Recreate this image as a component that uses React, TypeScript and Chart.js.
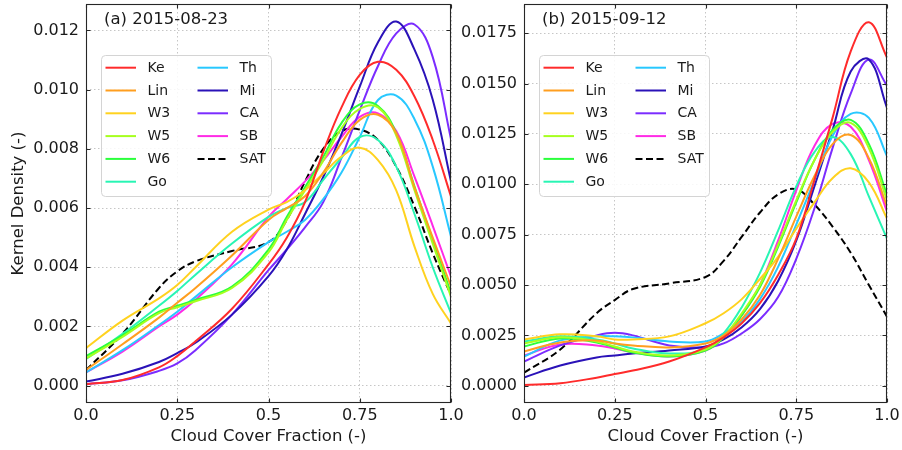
import React, { useEffect, useRef } from 'react';
import { Chart, registerables } from 'chart.js';

Chart.register(...registerables);

// ---------- data ----------
const X = [0, 0.1, 0.2, 0.25, 0.3, 0.4, 0.5, 0.55, 0.6, 0.65, 0.7, 0.75, 0.8, 0.85, 0.9, 0.95, 1.0];
const NAMES = ['Ke', 'Lin', 'W3', 'W5', 'W6', 'Go', 'Th', 'Mi', 'CA', 'SB', 'SAT'];
const COLORS = ['#ff2b2b', '#ff9e1f', '#ffd21f', '#a6ff1f', '#2bff3c', '#28f5b4', '#28c8ff', '#2a12b8', '#7b2cff', '#ff2be6', '#000000'];

const X_TICKS = [0, 0.25, 0.5, 0.75, 1.0];
const X_TICK_LABELS = ['0.0', '0.25', '0.5', '0.75', '1.0'];
const A_Y_TICKS = [0, 0.002, 0.004, 0.006, 0.008, 0.010, 0.012];
const A_Y_TICK_LABELS = ['0.000', '0.002', '0.004', '0.006', '0.008', '0.010', '0.012'];
const B_Y_TICKS = [0, 0.0025, 0.005, 0.0075, 0.01, 0.0125, 0.015, 0.0175];
const B_Y_TICK_LABELS = ['0.0000', '0.0025', '0.0050', '0.0075', '0.0100', '0.0125', '0.0150', '0.0175'];

const A_TITLE = '(a) 2015-08-23';
const B_TITLE = '(b) 2015-09-12';

// Panel (a) 2015-08-23
const A_KE = [0.00005, 0.00019, 0.00062, 0.00100, 0.00150, 0.00260, 0.00410, 0.00500, 0.00620, 0.00790, 0.00940, 0.01050, 0.01094, 0.01067, 0.00977, 0.00830, 0.00639];
const A_LIN = [0.00053, 0.00140, 0.00230, 0.00280, 0.00330, 0.00440, 0.00560, 0.00600, 0.00640, 0.00720, 0.00820, 0.00898, 0.00915, 0.00853, 0.00670, 0.00500, 0.00335];
const A_W3 = [0.00127, 0.00220, 0.00295, 0.00340, 0.00400, 0.00520, 0.00595, 0.00620, 0.00660, 0.00717, 0.00774, 0.00804, 0.00762, 0.00660, 0.00470, 0.00310, 0.00210];
const A_W5 = [0.00092, 0.00165, 0.00245, 0.00265, 0.00285, 0.00330, 0.00450, 0.00560, 0.00660, 0.00760, 0.00870, 0.00935, 0.00940, 0.00845, 0.00660, 0.00480, 0.00300];
const A_W6 = [0.00100, 0.00170, 0.00250, 0.00270, 0.00290, 0.00335, 0.00460, 0.00570, 0.00670, 0.00773, 0.00887, 0.00950, 0.00945, 0.00853, 0.00673, 0.00492, 0.00312];
const A_GO = [0.00090, 0.00175, 0.00270, 0.00320, 0.00375, 0.00480, 0.00570, 0.00600, 0.00620, 0.00695, 0.00770, 0.00840, 0.00830, 0.00740, 0.00580, 0.00400, 0.00245];
const A_TH = [0.00045, 0.00120, 0.00205, 0.00250, 0.00300, 0.00400, 0.00485, 0.00520, 0.00560, 0.00630, 0.00720, 0.00840, 0.00965, 0.00980, 0.00900, 0.00740, 0.00504];
const A_MI = [0.00014, 0.00040, 0.00080, 0.00110, 0.00145, 0.00240, 0.00370, 0.00460, 0.00580, 0.00705, 0.00850, 0.01010, 0.01160, 0.01230, 0.01135, 0.00966, 0.00690];
const A_CA = [0.00005, 0.00018, 0.00050, 0.00075, 0.00120, 0.00240, 0.00390, 0.00460, 0.00535, 0.00620, 0.00770, 0.00930, 0.01080, 0.01190, 0.01220, 0.01110, 0.00833];
const A_SB = [0.00045, 0.00115, 0.00200, 0.00240, 0.00290, 0.00410, 0.00570, 0.00630, 0.00690, 0.00760, 0.00840, 0.00908, 0.00920, 0.00860, 0.00706, 0.00540, 0.00368];
const A_SAT = [0.00053, 0.00175, 0.00330, 0.00386, 0.00420, 0.00455, 0.00485, 0.00560, 0.00690, 0.00800, 0.00860, 0.00865, 0.00830, 0.00740, 0.00605, 0.00447, 0.00306];

// Panel (b) 2015-09-12
const B_KE = [0.00003, 0.00012, 0.00040, 0.00058, 0.00075, 0.00120, 0.00190, 0.00240, 0.00310, 0.00410, 0.00550, 0.00730, 0.01020, 0.01330, 0.01660, 0.01805, 0.01630];
const B_LIN = [0.00170, 0.00215, 0.00225, 0.00210, 0.00200, 0.00190, 0.00210, 0.00250, 0.00330, 0.00450, 0.00630, 0.00840, 0.01040, 0.01200, 0.01245, 0.01130, 0.00890];
const B_W3 = [0.00230, 0.00255, 0.00245, 0.00230, 0.00230, 0.00245, 0.00310, 0.00360, 0.00430, 0.00530, 0.00640, 0.00780, 0.00910, 0.01030, 0.01080, 0.01010, 0.00830];
const B_W5 = [0.00210, 0.00240, 0.00220, 0.00195, 0.00170, 0.00150, 0.00180, 0.00245, 0.00360, 0.00500, 0.00700, 0.00920, 0.01120, 0.01260, 0.01305, 0.01180, 0.00920];
const B_W6 = [0.00195, 0.00235, 0.00215, 0.00190, 0.00165, 0.00145, 0.00175, 0.00240, 0.00350, 0.00490, 0.00690, 0.00910, 0.01120, 0.01270, 0.01320, 0.01200, 0.00947];
const B_GO = [0.00220, 0.00245, 0.00230, 0.00210, 0.00185, 0.00160, 0.00180, 0.00260, 0.00390, 0.00560, 0.00770, 0.00990, 0.01160, 0.01235, 0.01150, 0.00940, 0.00730];
const B_TH = [0.00145, 0.00225, 0.00245, 0.00245, 0.00240, 0.00220, 0.00220, 0.00260, 0.00320, 0.00430, 0.00590, 0.00800, 0.01020, 0.01240, 0.01350, 0.01330, 0.01140];
const B_MI = [0.00041, 0.00100, 0.00140, 0.00150, 0.00160, 0.00175, 0.00195, 0.00230, 0.00290, 0.00380, 0.00520, 0.00720, 0.00990, 0.01270, 0.01560, 0.01620, 0.01380];
const B_CA = [0.00120, 0.00200, 0.00250, 0.00263, 0.00250, 0.00200, 0.00190, 0.00210, 0.00260, 0.00330, 0.00440, 0.00630, 0.00880, 0.01180, 0.01450, 0.01620, 0.01490];
const B_SB = [0.00150, 0.00205, 0.00200, 0.00185, 0.00165, 0.00145, 0.00175, 0.00240, 0.00350, 0.00500, 0.00720, 0.00970, 0.01190, 0.01300, 0.01286, 0.01120, 0.00864];
const B_SAT = [0.00065, 0.00180, 0.00360, 0.00425, 0.00480, 0.00508, 0.00540, 0.00620, 0.00740, 0.00860, 0.00950, 0.00975, 0.00900, 0.00790, 0.00660, 0.00500, 0.00343];

const A_SERIES = [A_KE, A_LIN, A_W3, A_W5, A_W6, A_GO, A_TH, A_MI, A_CA, A_SB, A_SAT];
const B_SERIES = [B_KE, B_LIN, B_W3, B_W5, B_W6, B_GO, B_TH, B_MI, B_CA, B_SB, B_SAT];

// ---------- styling ----------
const FONT = '"DejaVu Sans", "Liberation Sans", sans-serif';
const TEXT = '#1a1a1a';

const framePlugin = {
  id: 'frameTicks',
  afterDraw(chart: any) {
    const { ctx, chartArea, scales } = chart;
    const l = Math.round(chartArea.left) + 0.5;
    const r = Math.round(chartArea.right) - 0.5;
    const t = Math.round(chartArea.top) + 0.5;
    const b = Math.round(chartArea.bottom) - 0.5;
    ctx.save();
    ctx.strokeStyle = '#262626';
    ctx.lineWidth = 1.1;
    ctx.setLineDash([]);
    ctx.strokeRect(l, t, r - l, b - t);
    const len = 4;
    ctx.beginPath();
    scales.x.ticks.forEach((tk: any) => {
      const px = Math.round(scales.x.getPixelForValue(tk.value)) + 0.5;
      ctx.moveTo(px, b); ctx.lineTo(px, b - len);
      ctx.moveTo(px, t); ctx.lineTo(px, t + len);
    });
    scales.y.ticks.forEach((tk: any) => {
      const py = Math.round(scales.y.getPixelForValue(tk.value)) + 0.5;
      ctx.moveTo(l, py); ctx.lineTo(l + len, py);
      ctx.moveTo(r, py); ctx.lineTo(r - len, py);
    });
    ctx.stroke();
    ctx.restore();
  },
};

const titlePlugin = {
  id: 'panelTitle',
  afterDraw(chart: any, _args: any, opts: any) {
    const { ctx, chartArea } = chart;
    ctx.save();
    ctx.font = `16.5px ${FONT}`;
    ctx.fillStyle = TEXT;
    ctx.textBaseline = 'alphabetic';
    ctx.textAlign = 'left';
    ctx.fillText(opts.text, chartArea.left + 18, 24);
    ctx.restore();
  },
};

const legendPlugin = {
  id: 'panelLegend',
  afterDatasetsDraw(chart: any) {
    const { ctx, chartArea } = chart;
    const bx = Math.round(chartArea.left + 14.5) + 0.5;
    const by = 55.5;
    const bw = 170;
    const bh = 141;
    ctx.save();
    ctx.beginPath();
    if (ctx.roundRect) ctx.roundRect(bx, by, bw, bh, 4); else ctx.rect(bx, by, bw, bh);
    ctx.fillStyle = 'rgba(255,255,255,0.85)';
    ctx.fill();
    ctx.strokeStyle = '#d4d4d4';
    ctx.lineWidth = 1;
    ctx.stroke();
    chart.data.datasets.forEach((ds: any, i: number) => {
      const col = Math.floor(i / 6);
      const row = i % 6;
      const lx = bx + (col ? 96 : 4);
      const ty = by + 12.2 + row * 22.8;
      ctx.beginPath();
      ctx.setLineDash(ds.borderDash || []);
      ctx.strokeStyle = ds.borderColor;
      ctx.lineWidth = 2;
      ctx.moveTo(lx, ty);
      ctx.lineTo(lx + 30.5, ty);
      ctx.stroke();
      ctx.setLineDash([]);
      ctx.fillStyle = TEXT;
      ctx.font = `14px ${FONT}`;
      ctx.textBaseline = 'middle';
      ctx.textAlign = 'left';
      ctx.fillText(ds.label, lx + 42, ty + 0.5);
    });
    ctx.restore();
  },
};

type PanelProps = {
  left: number;
  width: number;
  yWidth: number;
  padRight: number;
  title: string;
  series: number[][];
  yTicks: number[];
  yLabels: string[];
  yMin: number;
  yMax: number;
  yTitle?: string;
};

function Panel(p: PanelProps) {
  const ref = useRef<HTMLCanvasElement>(null);
  useEffect(() => {
    const datasets = p.series.map((vals, i) => ({
      label: NAMES[i],
      data: X.map((x, j) => ({ x, y: vals[j] })),
      borderColor: COLORS[i],
      backgroundColor: COLORS[i],
      borderWidth: 2,
      borderDash: NAMES[i] === 'SAT' ? [7, 3.5] : [],
      pointRadius: 0,
      fill: false,
      tension: 0.4,
    }));
    const chart = new Chart(ref.current as HTMLCanvasElement, {
      type: 'line',
      data: { datasets },
      plugins: [legendPlugin, framePlugin, titlePlugin],
      options: {
        responsive: false,
        animation: false,
        events: [],
        layout: { padding: { left: 0, right: p.padRight, top: 4, bottom: 0 } },
        plugins: {
          legend: { display: false },
          tooltip: { enabled: false },
          panelTitle: { text: p.title },
        } as any,
        scales: {
          x: {
            type: 'linear',
            min: 0,
            max: 1,
            afterBuildTicks: (s: any) => { s.ticks = X_TICKS.map((v) => ({ value: v })); },
            afterFit: (s: any) => { s.height = 47; s.paddingLeft = 0; s.paddingRight = 0; },
            ticks: {
              callback: (v: any) => X_TICK_LABELS[X_TICKS.indexOf(Number(v))] ?? '',
              font: { family: FONT, size: 16 },
              color: TEXT,
              padding: 3,
              maxRotation: 0,
              minRotation: 0,
              autoSkip: false,
            },
            grid: { color: '#b8b8b8', lineWidth: 0.8, drawTicks: false },
            border: { display: false, dash: [1.5, 2.5] },
            title: {
              display: true,
              text: 'Cloud Cover Fraction (-)',
              font: { family: FONT, size: 16.5 },
              color: TEXT,
              padding: { top: 0, bottom: 3.5 },
            },
          },
          y: {
            type: 'linear',
            min: p.yMin,
            max: p.yMax,
            afterBuildTicks: (s: any) => { s.ticks = p.yTicks.map((v) => ({ value: v })); },
            afterFit: (s: any) => { s.width = p.yWidth; s.paddingTop = 0; s.paddingBottom = 0; },
            ticks: {
              callback: (v: any) => {
                const idx = p.yTicks.findIndex((t) => Math.abs(t - Number(v)) < 1e-9);
                return idx >= 0 ? p.yLabels[idx] : '';
              },
              font: { family: FONT, size: 16 },
              color: TEXT,
              padding: 7,
              autoSkip: false,
            },
            grid: { color: '#b8b8b8', lineWidth: 0.8, drawTicks: false },
            border: { display: false, dash: [1.5, 2.5] },
            title: {
              display: !!p.yTitle,
              text: p.yTitle || '',
              font: { family: FONT, size: 16.5 },
              color: TEXT,
              padding: { top: 8.6, bottom: 0 },
            },
          },
        },
      } as any,
    });
    return () => chart.destroy();
  }, []);
  return (
    <canvas
      ref={ref}
      width={p.width}
      height={450}
      style={{ position: 'absolute', left: p.left, top: 0, width: p.width, height: 450, display: 'block' }}
    />
  );
}

export default function App() {
  return (
    <div style={{ position: 'absolute', left: 0, top: 0, width: 902, height: 450, background: '#ffffff', overflow: 'hidden' }}>
      <Panel
        left={0}
        width={476}
        yWidth={86}
        padRight={25}
        title={A_TITLE}
        series={A_SERIES}
        yTicks={A_Y_TICKS}
        yLabels={A_Y_TICK_LABELS}
        yMin={-0.000585}
        yMax={0.012893}
        yTitle="Kernel Density (-)"
      />
      <Panel
        left={455}
        width={447}
        yWidth={69}
        padRight={15}
        title={B_TITLE}
        series={B_SERIES}
        yTicks={B_Y_TICKS}
        yLabels={B_Y_TICK_LABELS}
        yMin={-0.000859}
        yMax={0.018955}
      />
    </div>
  );
}
